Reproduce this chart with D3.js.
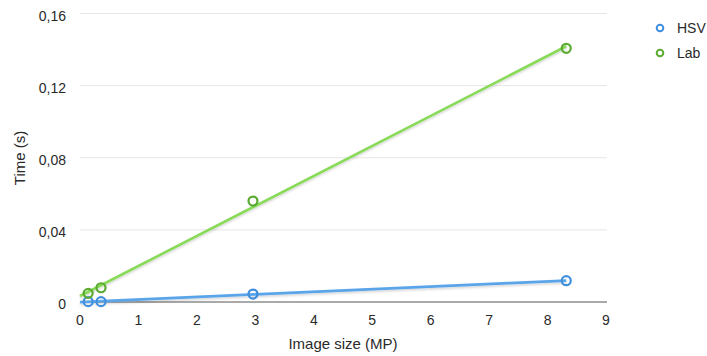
<!DOCTYPE html>
<html>
<head>
<meta charset="utf-8">
<script src="https://cdn.jsdelivr.net/npm/d3@7"></script>
<style>
  html, body { margin: 0; padding: 0; background: #fff; }
  svg { display: block; font-family: "Liberation Sans", Arial, Helvetica, sans-serif; }
</style>
</head>
<body>
<svg id="chart" width="707" height="356"></svg>
<script>
// ---- data ----
const imageSizes = [0.14, 0.36, 2.96, 8.32];          // MP
const hsvTimes   = [0.0002, 0.0002, 0.0044, 0.0118];  // s
const labTimes   = [0.0048, 0.0079, 0.056, 0.1407];   // s
const seriesNames = ["HSV", "Lab"];
const xTicks = [0, 1, 2, 3, 4, 5, 6, 7, 8, 9];
const yTicks = [0, 0.04, 0.08, 0.12, 0.16];
const yTickLabels = ["0", "0,04", "0,08", "0,12", "0,16"];

const lineColors   = { HSV: "#5aa5ea", Lab: "#88da58" };
const markerColors = { HSV: "#3f8fdc", Lab: "#5aab30" };

const svg = d3.select("#chart");

const x = d3.scaleLinear().domain([0, 9]).range([80, 606]);
const y = d3.scaleLinear().domain([0, 0.16]).range([302, 13.5]);

// shadow filter
const defs = svg.append("defs");
const f = defs.append("filter").attr("id", "shadow").attr("x", "-5%").attr("y", "-20%").attr("width", "110%").attr("height", "160%");
f.append("feDropShadow").attr("dx", 0).attr("dy", 1.5).attr("stdDeviation", 1).attr("flood-color", "#000").attr("flood-opacity", 0.18);

// grid
svg.append("g").selectAll("line").data(yTicks.filter(d => d > 0)).join("line")
  .attr("x1", x(0)).attr("x2", x(9) + 1)
  .attr("y1", d => y(d)).attr("y2", d => y(d))
  .attr("stroke", "#e6e6e6").attr("stroke-width", 1);

// x axis line
svg.append("line").attr("x1", x(0)).attr("x2", x(9) + 1)
  .attr("y1", y(0)).attr("y2", y(0)).attr("stroke", "#555").attr("stroke-width", 1);

// y tick labels
svg.append("g").selectAll("text").data(yTicks).join("text")
  .attr("x", 66).attr("y", d => y(d) + 7)
  .attr("text-anchor", "end").attr("font-size", 14).attr("fill", "#2a2a2a")
  .text((d, i) => yTickLabels[i]);

// x tick labels
svg.append("g").selectAll("text").data(xTicks).join("text")
  .attr("x", d => x(d)).attr("y", 325)
  .attr("text-anchor", "middle").attr("font-size", 14).attr("fill", "#2a2a2a")
  .text(d => d);

// axis titles
svg.append("text").attr("x", x(4.5)).attr("y", 349)
  .attr("text-anchor", "middle").attr("font-size", 15).attr("fill", "#2a2a2a")
  .text("Image size (MP)");
svg.append("text").attr("transform", "translate(25,158) rotate(-90)")
  .attr("text-anchor", "middle").attr("font-size", 15).attr("fill", "#2a2a2a")
  .text("Time (s)");

// series: markers + linear trend line computed from the data
function regression(xs, ys) {
  const n = xs.length;
  const mx = d3.mean(xs), my = d3.mean(ys);
  let sxy = 0, sxx = 0;
  for (let i = 0; i < n; i++) { sxy += (xs[i] - mx) * (ys[i] - my); sxx += (xs[i] - mx) ** 2; }
  const b = sxy / sxx;
  return { b, a: my - b * mx };
}
const series = [
  { name: "HSV", values: hsvTimes },
  { name: "Lab", values: labTimes }
];
const line = d3.line().x(d => x(d[0])).y(d => y(d[1]));

series.forEach(s => {
  const r = regression(imageSizes, s.values);
  const x0 = 0, x1 = d3.max(imageSizes);
  svg.append("path")
    .attr("d", line([[x0, r.a + r.b * x0], [x1, r.a + r.b * x1]]))
    .attr("fill", "none").attr("stroke", lineColors[s.name]).attr("stroke-width", 2.6)
    .attr("filter", "url(#shadow)");
});
series.forEach(s => {
  svg.append("g").selectAll("circle").data(imageSizes).join("circle")
    .attr("cx", d => x(d)).attr("cy", (d, i) => y(s.values[i]))
    .attr("r", 4.5).attr("fill", "none")
    .attr("stroke", markerColors[s.name]).attr("stroke-width", 2.2);
});

// legend
const lg = svg.append("g").selectAll("g").data(seriesNames).join("g")
  .attr("transform", (d, i) => `translate(660,${28 + i * 25})`);
lg.append("circle").attr("r", 3.3).attr("fill", "none")
  .attr("stroke", d => markerColors[d]).attr("stroke-width", 2);
lg.append("text").attr("x", 17).attr("y", 5).attr("font-size", 14).attr("fill", "#2a2a2a").text(d => d);
</script>
</body>
</html>
